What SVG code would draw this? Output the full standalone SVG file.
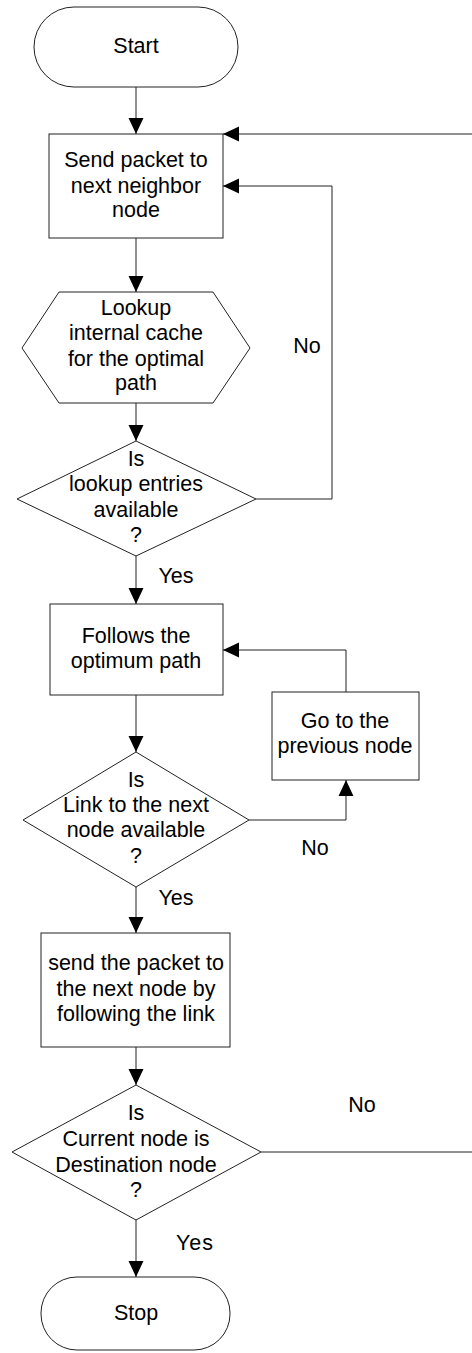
<svg xmlns="http://www.w3.org/2000/svg" width="472" height="1353" viewBox="0 0 472 1353">
<style>
.s{fill:#fff;stroke:#222;stroke-width:1}
.c{fill:none;stroke:#222;stroke-width:1}
text{font-family:"Liberation Sans",Arial,sans-serif;font-size:21.5px;fill:#000;text-anchor:middle}
</style>
<defs>
<marker id="ah" markerUnits="userSpaceOnUse" markerWidth="16" markerHeight="16" viewBox="0 0 15 14" refX="15" refY="7" orient="auto">
<path d="M0,0 L15,7 L0,14 Z" fill="#000"/>
</marker>
</defs>
<rect width="472" height="1353" fill="#fff"/>
<g id="connectors">
<line class="c" x1="136" y1="87" x2="136" y2="134" marker-end="url(#ah)"/>
<line class="c" x1="136" y1="238" x2="136" y2="292" marker-end="url(#ah)"/>
<line class="c" x1="136" y1="403" x2="136" y2="441" marker-end="url(#ah)"/>
<polyline class="c" points="256,499 332,499 332,186 223,186" marker-end="url(#ah)"/>
<line class="c" x1="136" y1="556" x2="136" y2="604" marker-end="url(#ah)"/>
<line class="c" x1="136" y1="695" x2="136" y2="752" marker-end="url(#ah)"/>
<polyline class="c" points="346,692 346,650 223,650" marker-end="url(#ah)"/>
<polyline class="c" points="249,820 346,820 346,780" marker-end="url(#ah)"/>
<line class="c" x1="136" y1="887" x2="136" y2="933" marker-end="url(#ah)"/>
<line class="c" x1="136" y1="1047" x2="136" y2="1085" marker-end="url(#ah)"/>
<polyline class="c" points="261,1152 475,1152 475,134 223,134" marker-end="url(#ah)"/>
<line class="c" x1="136" y1="1220" x2="136" y2="1277" marker-end="url(#ah)"/>
<text x="307" y="353">No</text>
<text x="176" y="583">Yes</text>
<text x="315" y="855">No</text>
<text x="176" y="905">Yes</text>
<text x="362" y="1112">No</text>
<text x="195" y="1250" letter-spacing="1">Yes</text>
</g>
<g id="start">
<rect class="s" x="34" y="7" width="204" height="80" rx="40" ry="40"/>
<text x="136" y="53">Start</text>
</g>
<g id="send">
<rect class="s" x="49" y="134" width="174" height="104"/>
<text x="136" y="167">Send packet to</text>
<text x="136" y="193">next neighbor</text>
<text x="136" y="217">node</text>
</g>
<g id="lookup">
<polygon class="s" points="59,292 213,292 250,348 213,403 59,403 22,348"/>
<text x="136" y="315">Lookup</text>
<text x="136" y="340">internal cache</text>
<text x="136" y="366">for the optimal</text>
<text x="136" y="390">path</text>
</g>
<g id="entries">
<polygon class="s" points="136,441 256,499 136,556 17,499"/>
<text x="136" y="466">Is</text>
<text x="136" y="491">lookup entries</text>
<text x="136" y="517">available</text>
<text x="136" y="542">?</text>
</g>
<g id="follows">
<rect class="s" x="50" y="604" width="173" height="91"/>
<text x="136" y="643">Follows the</text>
<text x="136" y="668">optimum path</text>
</g>
<g id="previous">
<rect class="s" x="272" y="692" width="147" height="88"/>
<text x="345" y="728">Go to the</text>
<text x="345" y="753">previous node</text>
</g>
<g id="link">
<polygon class="s" points="136,752 249,820 136,887 23,820"/>
<text x="136" y="787">Is</text>
<text x="136" y="812">Link to the next</text>
<text x="136" y="837">node available</text>
<text x="136" y="863">?</text>
</g>
<g id="sendnext">
<rect class="s" x="41" y="933" width="189" height="114"/>
<text x="136" y="970">send the packet to</text>
<text x="136" y="996">the next node by</text>
<text x="136" y="1021">following the link</text>
</g>
<g id="destination">
<polygon class="s" points="136,1085 261,1152 136,1220 12,1152"/>
<text x="136" y="1120">Is</text>
<text x="136" y="1146">Current node is</text>
<text x="136" y="1172">Destination node</text>
<text x="136" y="1197">?</text>
</g>
<g id="stop">
<rect class="s" x="41" y="1277" width="189" height="73" rx="36" ry="36"/>
<text x="136" y="1320">Stop</text>
</g>
</svg>
